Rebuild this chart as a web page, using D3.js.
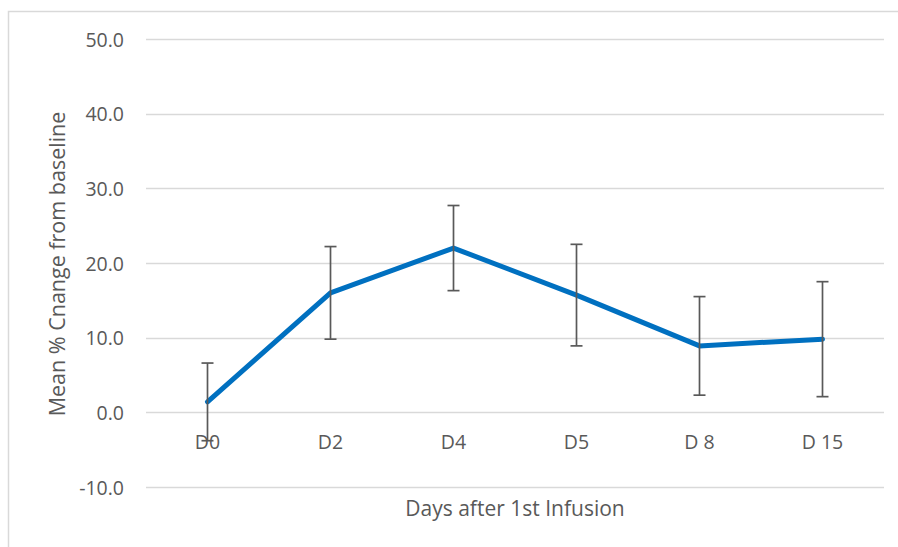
<!DOCTYPE html>
<html>
<head>
<meta charset="utf-8">
<script src="https://cdn.jsdelivr.net/npm/d3@7"></script>
<style>
  html, body { margin: 0; padding: 0; background: #fff; }
  svg { display: block; }
</style>
</head>
<body>
<script>
// Mean % change from baseline by study day, with error bars
const categories = ["D0", "D2", "D4", "D5", "D 8", "D 15"];
const meanValues = [1.4, 16.0, 22.0, 15.7, 8.9, 9.8];
const errorValues = [5.2, 6.2, 5.7, 6.8, 6.6, 7.7];
const yTicks = [-10, 0, 10, 20, 30, 40, 50];

const W = 898, H = 547;
const font = "'Open Sans', 'Liberation Sans', sans-serif";
const textColor = "#595959";

const svg = d3.select("body").append("svg")
  .attr("width", W).attr("height", H);

// chart area border
svg.append("rect")
  .attr("x", 8.5).attr("y", 11.5)
  .attr("width", W).attr("height", H)
  .attr("fill", "none").attr("stroke", "#d9d9d9").attr("stroke-width", 1.5);

const x = d3.scaleBand()
  .domain(categories)
  .range([146, 884]);

const y = d3.scaleLinear()
  .domain([-10, 50])
  .range([487, 39]);

// horizontal gridlines
svg.append("g").selectAll("line")
  .data(yTicks).join("line")
  .attr("x1", x.range()[0]).attr("x2", x.range()[1])
  .attr("y1", d => Math.round(y(d)) + 0.5).attr("y2", d => Math.round(y(d)) + 0.5)
  .attr("stroke", "#d9d9d9").attr("stroke-width", 1.3);

// y axis tick labels (plain hyphen for negatives)
const fmt = d => d.toFixed(1);
const yAxis = d3.axisLeft(y).tickValues(yTicks).tickSize(0).tickPadding(0)
  .tickFormat(fmt);
const gy = svg.append("g").attr("transform", "translate(124,0)").call(yAxis);
gy.select(".domain").remove();
gy.selectAll("text")
  .attr("fill", textColor).attr("dy", "0.36em")
  .style("font-family", font).style("font-size", "19.5px");

// category labels sit just below the zero line
const xAxis = d3.axisBottom(x).tickSize(0).tickPadding(0);
const gx = svg.append("g").attr("transform", `translate(0,${y(0) + 37})`).call(xAxis);
gx.select(".domain").remove();
gx.selectAll("text")
  .attr("fill", textColor).attr("dy", 0)
  .style("font-family", font).style("font-size", "19.5px");

const cx = d => x(d) + x.bandwidth() / 2;
const rows = categories.map((c, i) => ({ c, v: meanValues[i], e: errorValues[i] }));

// mean line
svg.append("path")
  .datum(rows)
  .attr("fill", "none")
  .attr("stroke", "#0070C0")
  .attr("stroke-width", 5)
  .attr("stroke-linejoin", "round")
  .attr("stroke-linecap", "round")
  .attr("d", d3.line().x(d => cx(d.c)).y(d => y(d.v)));

// error bars
const eb = svg.append("g").attr("stroke", "#595959").attr("stroke-width", 1.7);
rows.forEach(d => {
  const px = cx(d.c);
  eb.append("line").attr("x1", px).attr("x2", px)
    .attr("y1", y(d.v + d.e)).attr("y2", y(d.v - d.e));
  [d.v + d.e, d.v - d.e].forEach(v => {
    eb.append("line").attr("x1", px - 6).attr("x2", px + 6)
      .attr("y1", y(v)).attr("y2", y(v));
  });
});

// axis titles
svg.append("text")
  .attr("x", 515).attr("y", 516)
  .attr("text-anchor", "middle")
  .attr("fill", textColor)
  .style("font-family", font).style("font-size", "21px")
  .text("Days after 1st Infusion");

svg.append("text")
  .attr("transform", "translate(65,264) rotate(-90)")
  .attr("text-anchor", "middle")
  .attr("fill", textColor)
  .style("font-family", font).style("font-size", "21.5px")
  .text("Mean % Cnange from baseline");
</script>
</body>
</html>
